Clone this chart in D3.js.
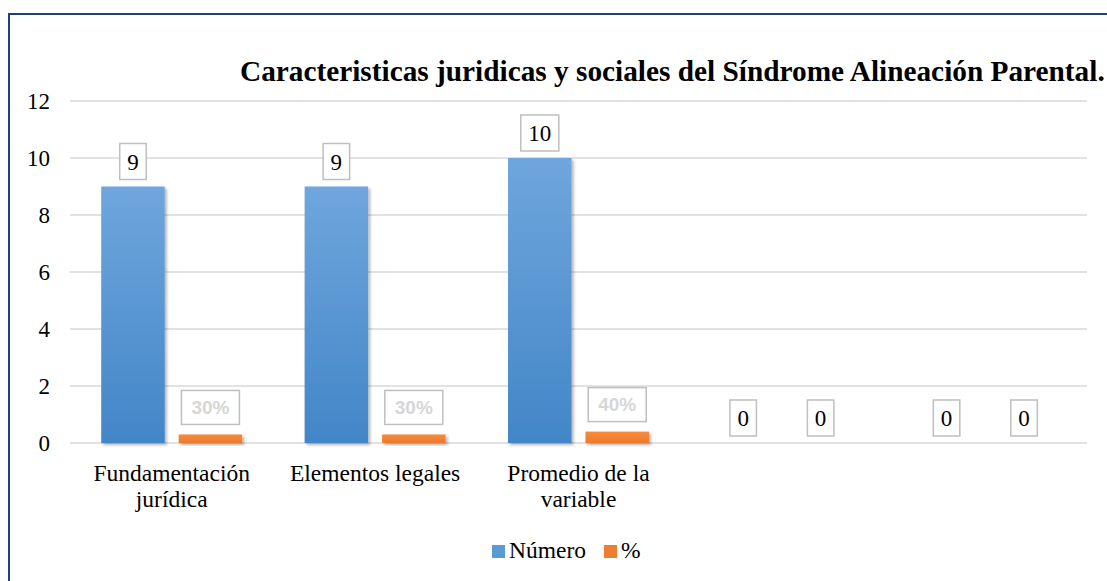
<!DOCTYPE html>
<html>
<head>
<meta charset="utf-8">
<script src="https://cdn.jsdelivr.net/npm/d3@7"></script>
<style>
  body { margin: 0; background: #fff; }
  svg { display: block; }
  .serif { font-family: "Liberation Serif", "Times New Roman", Times, "DejaVu Serif", serif; }
  .sans { font-family: "Liberation Sans", Arial, Helvetica, sans-serif; }
</style>
</head>
<body>
<div id="chart"></div>
<script>
// data
var categories = ["Fundamentación jurídica", "Elementos legales", "Promedio de la variable", "", ""];
var seriesNames = ["Número", "%"];
var numero = [9, 9, 10, 0, 0];
var porcentaje = [0.3, 0.3, 0.4, 0, 0];
var yTicks = [0, 2, 4, 6, 8, 10, 12];
var title = "Caracteristicas juridicas y sociales del Síndrome Alineación Parental.";

var width = 1107, height = 581;
var plot = {left: 70, right: 1087, top: 101, bottom: 443};

var svg = d3.select("#chart").append("svg")
    .attr("width", width)
    .attr("height", height);

var defs = svg.append("defs");
var blueGrad = defs.append("linearGradient").attr("id", "blueGrad")
    .attr("x1", 0).attr("y1", 0).attr("x2", 0).attr("y2", 1);
blueGrad.append("stop").attr("offset", "0%").attr("stop-color", "#6fa6dd");
blueGrad.append("stop").attr("offset", "100%").attr("stop-color", "#4286c7");
var orangeGrad = defs.append("linearGradient").attr("id", "orangeGrad")
    .attr("x1", 0).attr("y1", 0).attr("x2", 0).attr("y2", 1);
orangeGrad.append("stop").attr("offset", "0%").attr("stop-color", "#f68a3e");
orangeGrad.append("stop").attr("offset", "100%").attr("stop-color", "#ee7a2c");
var shadow = defs.append("filter").attr("id", "shadow")
    .attr("x", "-20%").attr("y", "-20%").attr("width", "150%").attr("height", "150%");
shadow.append("feDropShadow").attr("dx", 2).attr("dy", 2)
    .attr("stdDeviation", 1.8).attr("flood-color", "#000").attr("flood-opacity", 0.3);

var colors = {"Número": "url(#blueGrad)", "%": "url(#orangeGrad)"};
var legendColors = {"Número": "#5b9bd5", "%": "#ed7d31"};

// outer frame
svg.append("rect")
    .attr("x", 9).attr("y", 14)
    .attr("width", 1120).attr("height", 600)
    .attr("fill", "none")
    .attr("stroke", "#1f3f7f")
    .attr("stroke-width", 2);

var x0 = d3.scaleBand()
    .domain(d3.range(categories.length))
    .range([plot.left, plot.right])
    .paddingInner(0.307)
    .paddingOuter(0.1535);

var x1 = d3.scaleBand()
    .domain(seriesNames)
    .range([0, x0.bandwidth()])
    .paddingInner(0.18);

var y = d3.scaleLinear()
    .domain([0, 12])
    .range([plot.bottom, plot.top]);

// gridlines
svg.append("g").selectAll("line")
    .data(yTicks)
    .enter().append("line")
    .attr("x1", plot.left).attr("x2", plot.right)
    .attr("y1", d => y(d)).attr("y2", d => y(d))
    .attr("stroke", "#d9d9d9")
    .attr("stroke-width", 1.5);

// y axis labels
var yAxis = d3.axisLeft(y).tickValues(yTicks).tickSize(0).tickPadding(20);
var yG = svg.append("g")
    .attr("transform", "translate(" + plot.left + ",0)")
    .call(yAxis)
    .attr("font-family", null)
    .attr("font-size", null);
yG.select(".domain").remove();
yG.selectAll("text")
    .attr("class", "serif")
    .style("font-size", "23px")
    .attr("fill", "#000")
    .attr("dy", "0.34em");

// title
svg.append("text")
    .attr("class", "serif")
    .attr("x", 240).attr("y", 81)
    .style("font-weight", "bold")
    .style("font-size", "29.3px")
    .attr("fill", "#000")
    .text(title);

var rows = categories.map(function(c, i) {
    return {i: i, cat: c, values: [
        {key: "Número", value: numero[i]},
        {key: "%", value: porcentaje[i]}
    ]};
});

var groups = svg.append("g").selectAll("g")
    .data(rows)
    .enter().append("g")
    .attr("transform", d => "translate(" + x0(d.i) + ",0)");

groups.selectAll("rect")
    .data(d => d.values.filter(v => v.value > 0))
    .enter().append("rect")
    .attr("x", d => x1(d.key))
    .attr("width", x1.bandwidth())
    .attr("y", d => y(d.value))
    .attr("height", d => y(0) - y(d.value))
    .attr("fill", d => colors[d.key])
    .attr("filter", "url(#shadow)");

// data labels in boxes
var labels = groups.selectAll("g.lbl")
    .data(d => d.values)
    .enter().append("g")
    .attr("class", "lbl");

labels.each(function(d) {
    var g = d3.select(this);
    var cx = x1(d.key) + x1.bandwidth() / 2;
    var isPct = d.key == "%" && d.value > 0;
    var txt = isPct ? d3.format(".0%")(d.value) : String(d.value);
    var boxH = isPct ? 34 : 36;
    var gap = isPct ? 10 : 7;
    var bottom = y(d.value) - gap;
    var top = bottom - boxH;
    var rect = g.append("rect");
    var t = g.append("text")
        .attr("x", cx)
        .attr("y", top + boxH / 2)
        .attr("dy", "0.35em")
        .attr("text-anchor", "middle")
        .text(txt);
    if (isPct) {
        t.attr("class", "sans")
            .style("font-weight", "bold")
            .style("font-size", "19px")
            .attr("fill", "#d6d6d6");
    } else {
        t.attr("class", "serif")
            .style("font-size", "23px")
            .attr("fill", "#000");
    }
    var w = t.node().getComputedTextLength() + (isPct ? 20 : 15);
    rect.attr("x", cx - w / 2).attr("y", top)
        .attr("width", w).attr("height", boxH)
        .attr("fill", "#fff")
        .attr("stroke", "#bfbfbf")
        .attr("stroke-width", 1.5);
});

// category labels, wrapped
function wrap(text, maxW) {
    text.each(function() {
        var el = d3.select(this);
        var words = el.text().split(/\s+/).filter(w => w.length);
        var cx = el.attr("x");
        el.text(null);
        var line = [];
        var tspan = el.append("tspan").attr("x", cx).attr("dy", 0);
        words.forEach(function(w) {
            line.push(w);
            tspan.text(line.join(" "));
            if (tspan.node().getComputedTextLength() > maxW && line.length > 1) {
                line.pop();
                tspan.text(line.join(" "));
                line = [w];
                tspan = el.append("tspan").attr("x", cx).attr("dy", 26).text(w);
            }
        });
    });
}

svg.append("g").selectAll("text")
    .data(rows)
    .enter().append("text")
    .attr("class", "serif")
    .attr("x", d => x0(d.i) + x0.bandwidth() / 2)
    .attr("y", 481)
    .attr("text-anchor", "middle")
    .style("font-size", "23.5px")
    .attr("fill", "#000")
    .text(d => d.cat)
    .call(wrap, 192);

// legend
var legendX = [492, 604];
var legend = svg.append("g").selectAll("g")
    .data(seriesNames)
    .enter().append("g")
    .attr("transform", (d, i) => "translate(" + legendX[i] + ",545)");
legend.append("rect")
    .attr("width", 13).attr("height", 13)
    .attr("fill", d => legendColors[d]);
legend.append("text")
    .attr("class", "serif")
    .attr("x", 17).attr("y", 13)
    .style("font-size", "23.5px")
    .attr("fill", "#000")
    .text(d => d);
</script>
</body>
</html>
